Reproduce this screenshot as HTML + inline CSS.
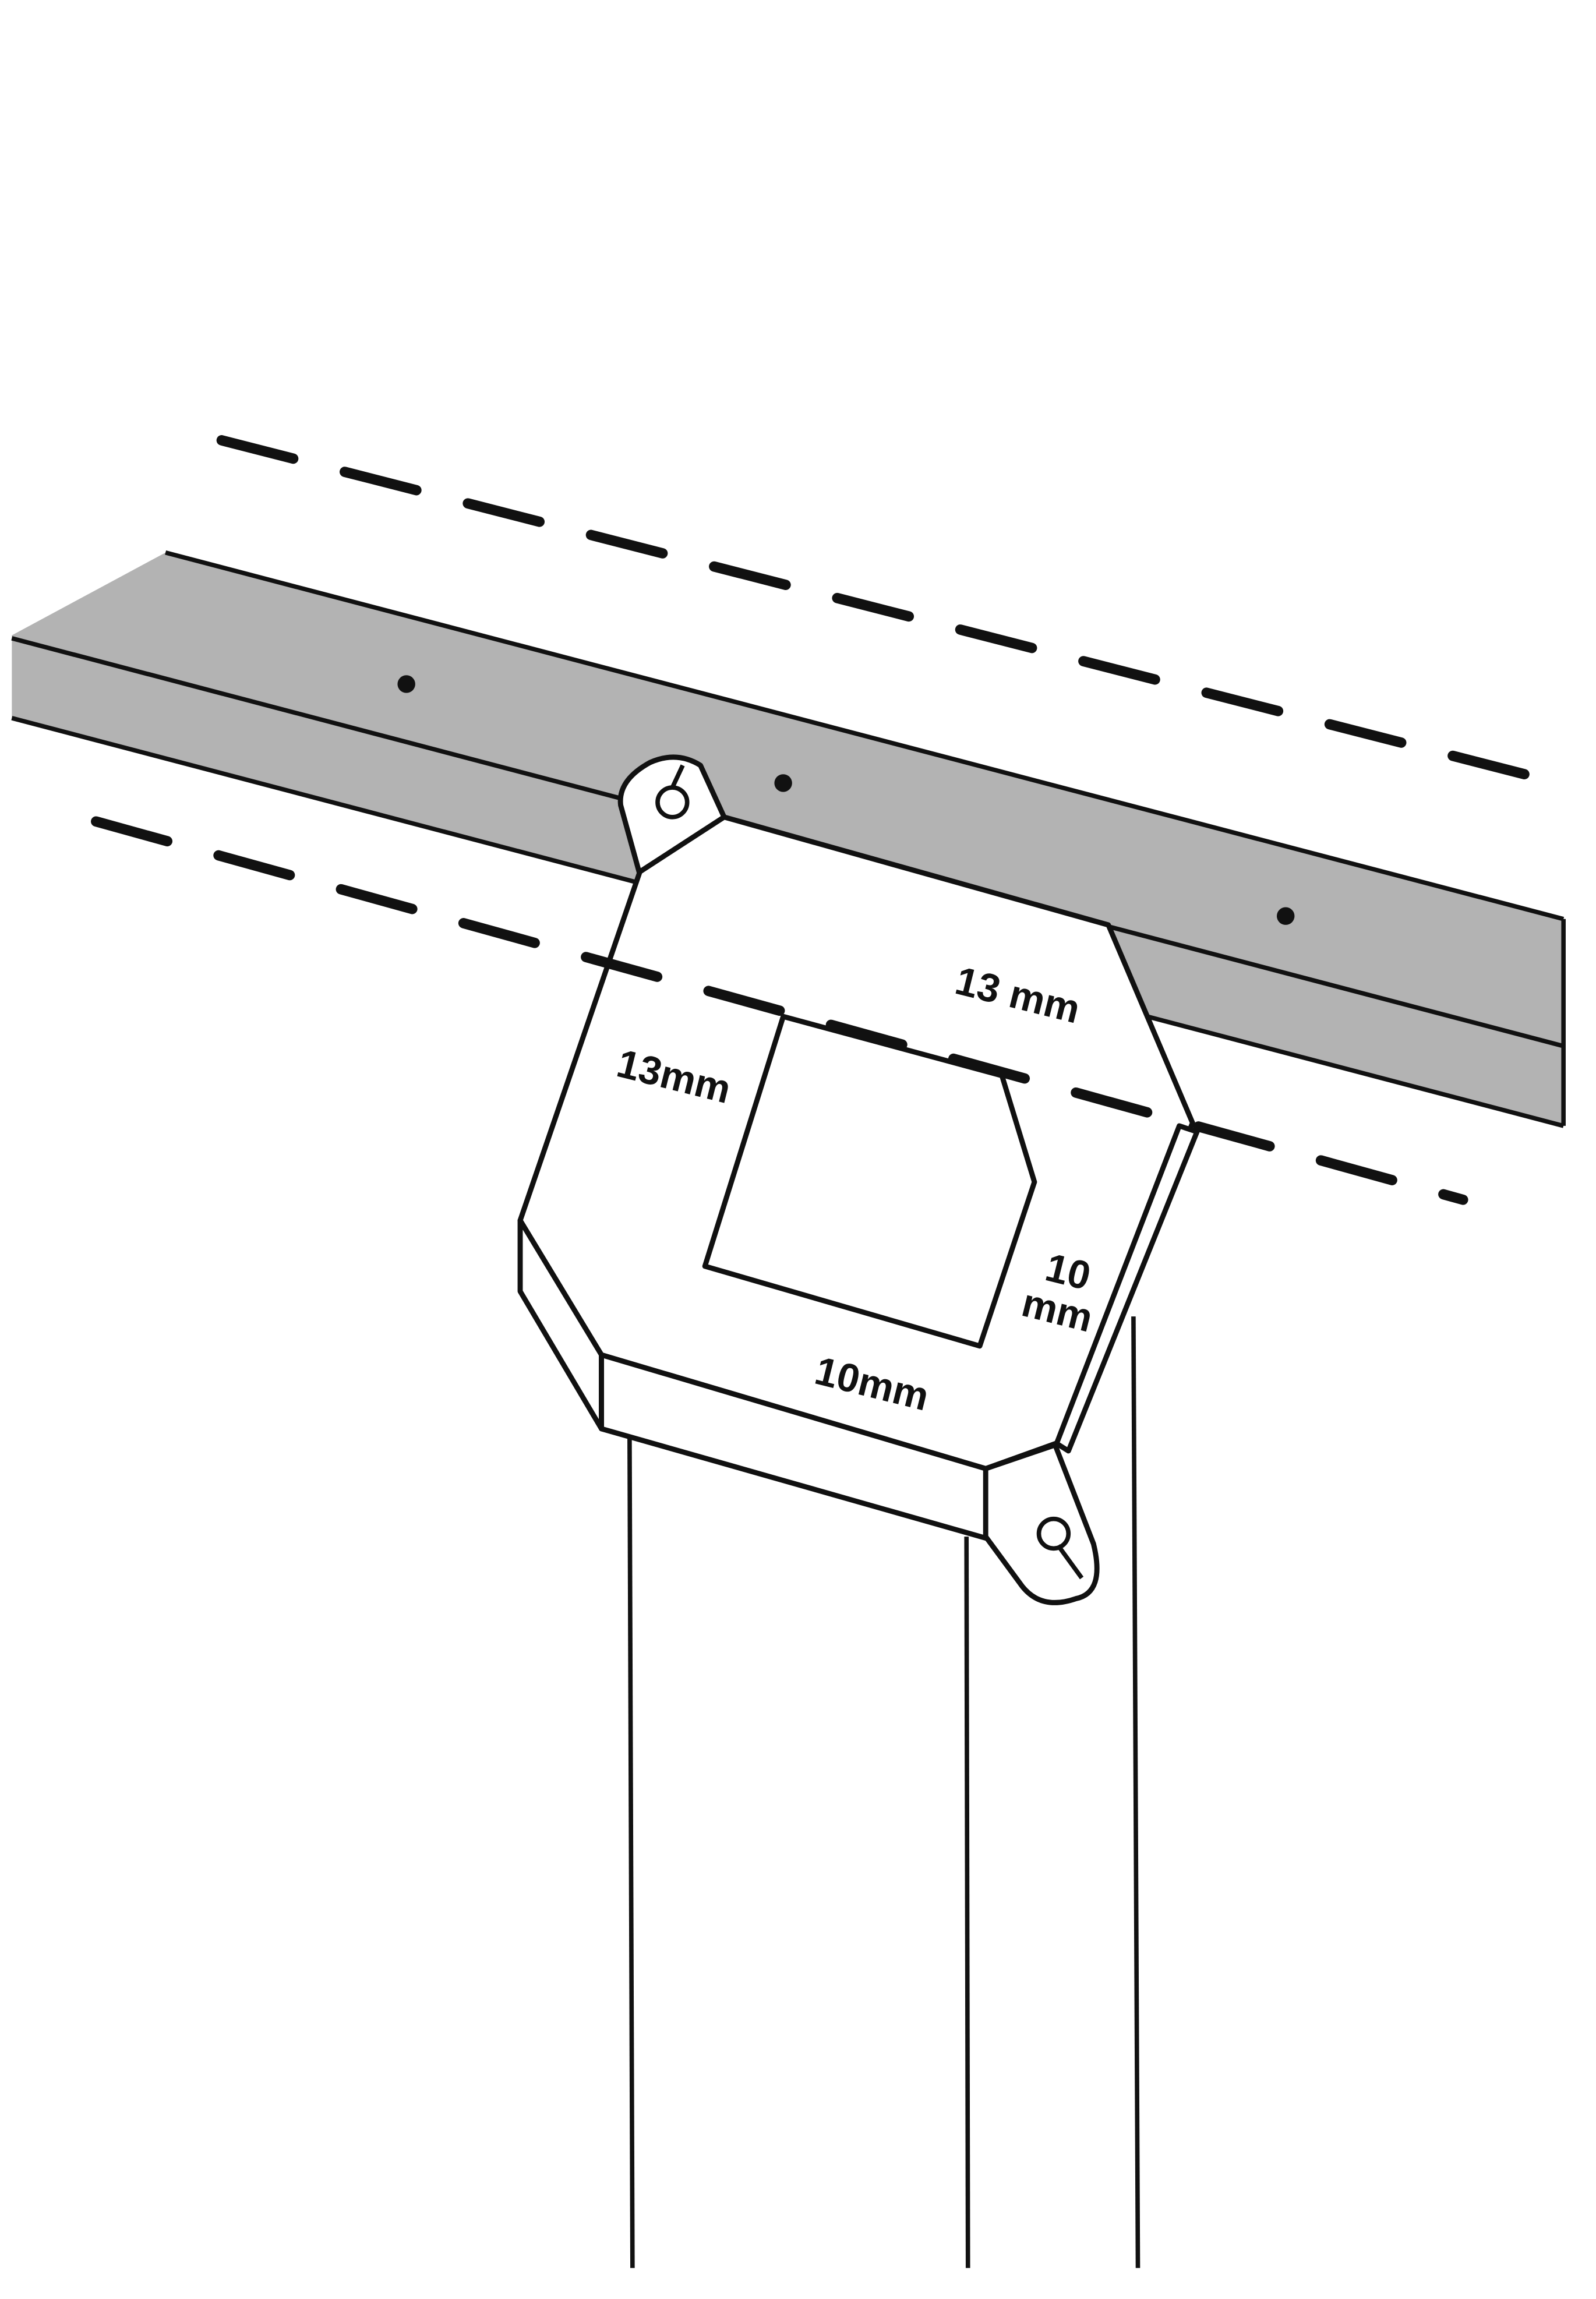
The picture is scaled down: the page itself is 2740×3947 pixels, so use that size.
<!DOCTYPE html>
<html><head><meta charset="utf-8"><style>
html,body{margin:0;padding:0;background:#fff;}
svg{display:block;}
text{font-family:"Liberation Sans",sans-serif;font-weight:bold;fill:#111;}
</style></head><body>
<svg width="2740" height="3947" viewBox="0 0 1080 1556" preserveAspectRatio="none" xmlns="http://www.w3.org/2000/svg">
<rect width="1080" height="1556" fill="#fff"/>
<!-- dashed lines -->
<line x1="150" y1="298" x2="1055" y2="530" stroke="#111" stroke-width="7" stroke-dasharray="50 36" stroke-linecap="round"/>
<!-- beam -->
<polygon points="8,430 112,374 1058,622 1058,762 8,486" fill="#b3b3b3"/>
<g stroke="#111" stroke-width="3" fill="none">
<line x1="112" y1="374" x2="1058" y2="622"/>
<line x1="8" y1="432" x2="1058" y2="708"/>
<line x1="8" y1="486" x2="1058" y2="762"/>
<line x1="1058" y1="622" x2="1058" y2="762"/>
</g>
<circle cx="275" cy="463" r="6" fill="#111"/>
<circle cx="530" cy="530" r="6" fill="#111"/>
<circle cx="870" cy="620" r="6" fill="#111"/>
<!-- vertical lines -->
<g stroke="#111" stroke-width="3">
<line x1="426" y1="965" x2="428" y2="1535"/>
<line x1="654" y1="1040" x2="655" y2="1535"/>
<line x1="767" y1="891" x2="770" y2="1535"/>
</g>
<!-- bracket -->
<g stroke="#111" stroke-width="3.5" fill="#fff" stroke-linejoin="round">
<!-- top tab -->
<path d="M433,592 L420,545 Q418,528 440,516 Q458,508 474,518 L490,553 Z"/>
<!-- plate top face -->
<polygon points="433,590 490,553 750,626 807,760 717,976 667,994 407,917 352,826"/>
<!-- left side face -->
<polygon points="352,826 352,874 407,967 407,917"/>
<!-- front face -->
<polygon points="407,917 667,994 690,1000 705,1045 667,1041 407,967"/>
<!-- bottom tab -->
<path d="M667,994 L714,978 L740,1045 Q748,1078 728,1082 Q705,1090 692,1074 L667,1040 Z"/>
<!-- right edge thickness -->
<polygon points="798,762 810,766 723,982 715,977"/>
<!-- square hole -->
<polygon points="530,688 477,857 663,911 700,800 678,728"/>
</g>
<!-- holes -->
<g stroke="#111" stroke-width="3" fill="#fff">
<circle cx="455" cy="543" r="10"/>
<path d="M455,533 L462,518" fill="none"/>
<circle cx="713" cy="1038" r="10"/>
<path d="M716,1046 L732,1068" fill="none"/>
</g>
<line x1="65" y1="556" x2="990" y2="812" stroke="#111" stroke-width="7" stroke-dasharray="50 36" stroke-linecap="round"/>
<!-- labels -->
<text x="645" y="672" font-size="27" transform="rotate(14 645 672)">13 mm</text>
<text x="416" y="728" font-size="27" transform="rotate(14 416 728)">13mm</text>
<text x="706" y="866" font-size="27" transform="rotate(14 706 866)">10</text>
<text x="690" y="890" font-size="27" transform="rotate(14 690 890)">mm</text>
<text x="550" y="936" font-size="27" transform="rotate(14 550 936)">10mm</text>
</svg>
</body></html>
